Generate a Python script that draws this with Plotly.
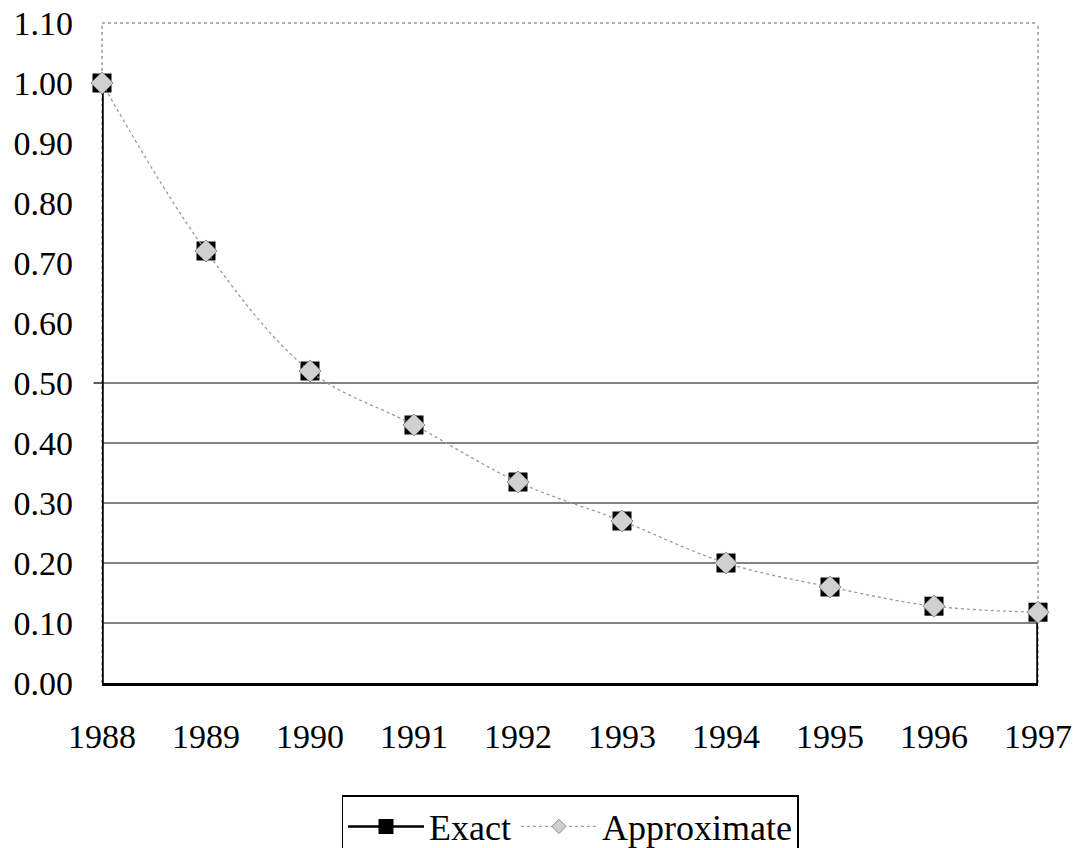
import plotly.graph_objects as go

years = [1988, 1989, 1990, 1991, 1992, 1993, 1994, 1995, 1996, 1997]
exact = [1.00, 0.72, 0.52, 0.43, 0.335, 0.27, 0.20, 0.16, 0.128, 0.118]
approximate = [1.00, 0.72, 0.52, 0.43, 0.335, 0.27, 0.20, 0.16, 0.128, 0.118]
y_ticks = [0.0, 0.1, 0.2, 0.3, 0.4, 0.5, 0.6, 0.7, 0.8, 0.9, 1.0, 1.1]
grid_levels = [0.1, 0.2, 0.3, 0.4, 0.5]

FONT = "Liberation Serif"

fig = go.Figure()

fig.add_trace(go.Scatter(x=years, y=exact, mode="markers", name="Exact",
                         marker=dict(symbol="square", size=19, color="black"),
                         showlegend=False, cliponaxis=False))
fig.add_trace(go.Scatter(x=years, y=approximate, mode="lines+markers", name="Approximate",
                         line=dict(color="#9a9a9a", width=1.3, shape="spline", dash="dot"),
                         marker=dict(symbol="diamond", size=17, color="#d0d0d0",
                                     line=dict(color="#8a8a8a", width=1)),
                         showlegend=False, cliponaxis=False))

# legend entries
fig.add_trace(go.Scatter(x=[None], y=[None], mode="lines+markers", name="Exact",
                         line=dict(color="black", width=2.5),
                         marker=dict(symbol="square", size=15, color="black")))
fig.add_trace(go.Scatter(x=[None], y=[None], mode="lines+markers", name="Approximate",
                         line=dict(color="#a0a0a0", width=1.2, dash="dot"),
                         marker=dict(symbol="diamond", size=11, color="#cfcfcf",
                                     line=dict(color="#909090", width=1))))

shapes = []
for g in grid_levels:
    shapes.append(dict(type="line", xref="paper", x0=0, x1=1, yref="y", y0=g, y1=g,
                       line=dict(color="#5a5a5a", width=1.3), layer="below"))
# plot-area border (gray) on top, left and right
shapes.append(dict(type="line", xref="paper", x0=0, x1=1, yref="paper", y0=1, y1=1,
                   line=dict(color="#9a9a9a", width=1.5, dash="dot"), layer="below"))
shapes.append(dict(type="line", xref="paper", x0=1, x1=1, yref="paper", y0=0, y1=1,
                   line=dict(color="#9a9a9a", width=1.5, dash="dot"), layer="below"))
shapes.append(dict(type="line", xref="paper", x0=0, x1=0, yref="paper", y0=0, y1=1,
                   line=dict(color="#9a9a9a", width=1.5, dash="dot"), layer="below"))
# drop lines at the ends of the Exact series
shapes.append(dict(type="line", xref="x", x0=years[0], x1=years[0], yref="y", y0=0, y1=exact[0],
                   line=dict(color="black", width=3.5), layer="below"))
shapes.append(dict(type="line", xref="x", x0=years[-1], x1=years[-1], yref="y", y0=0, y1=exact[-1],
                   line=dict(color="black", width=3.5), layer="below"))
# small tick at 0.50
shapes.append(dict(type="line", xref="paper", x0=-0.009, x1=0, yref="y", y0=0.5, y1=0.5,
                   line=dict(color="black", width=1.3)))

fig.update_layout(
    width=1078, height=848,
    margin=dict(l=102, r=40, t=23, b=165),
    paper_bgcolor="white", plot_bgcolor="white",
    font=dict(family=FONT, size=34, color="black"),
    showlegend=True,
    legend=dict(orientation="h", x=0.5, xanchor="center", xref="paper",
                y=1 - 795 / 848, yanchor="top", yref="container",
                font=dict(family=FONT, size=36, color="black"),
                bordercolor="black", borderwidth=1.5, bgcolor="white",
                itemwidth=76),
    shapes=shapes,
    xaxis=dict(range=[years[0], years[-1]], tickmode="array", tickvals=years,
               ticktext=[str(y) for y in years], showgrid=False, zeroline=False,
               showline=True, linecolor="black", linewidth=3, ticks="",
               tickfont=dict(family=FONT, size=34, color="black"), ticklabelstandoff=21,
               automargin=False),
    yaxis=dict(range=[0, 1.1], tickmode="array", tickvals=y_ticks,
               ticktext=[f"{v:.2f}" for v in y_ticks], showgrid=False, zeroline=False,
               showline=False, ticks="", tickfont=dict(family=FONT, size=34, color="black"),
               ticklabelstandoff=28, automargin=False),
)

fig.write_html("out.html", config={"displayModeBar": False},
               post_script="document.body.style.margin='0';document.body.style.overflow='hidden';")
